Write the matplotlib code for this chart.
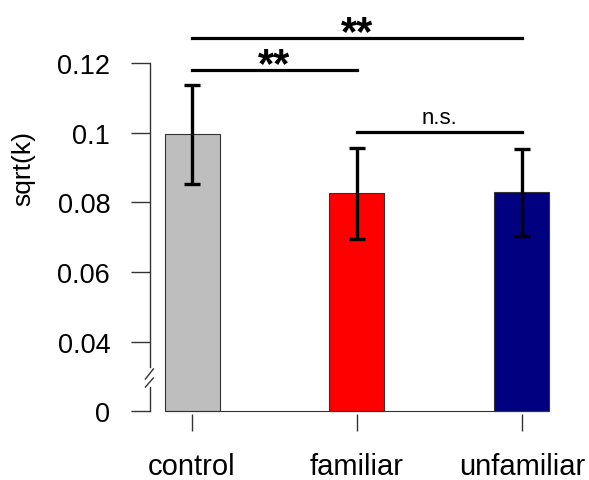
import numpy as np
import matplotlib
matplotlib.use("Agg")
import matplotlib.pyplot as plt

plt.rcParams['font.family'] = ['Liberation Sans', 'DejaVu Sans']

# data
groups = ['control', 'familiar', 'unfamiliar']
means = [0.0996, 0.0826, 0.0829]
errs = [0.0143, 0.0130, 0.0124]
colors = ['#BEBEBE', '#FF0000', '#000080']

# axis is broken: 0 is drawn where 0.02 would be
ytick_vals = [0.0, 0.04, 0.06, 0.08, 0.10, 0.12]
ytick_labels = ['0', '0.04', '0.06', '0.08', '0.1', '0.12']
zero_pos = 0.02

def disp(v):
    return zero_pos if v == 0 else v

# significance brackets: (from, to, label, height)
brackets = [(0, 2, '**', 0.1273), (0, 1, '**', 0.1181), (1, 2, 'n.s.', 0.1003)]

fig = plt.figure(figsize=(5.89, 4.81), dpi=100)
ax = fig.add_axes([150 / 589, 66 / 481, 420 / 589, 400 / 481])

x = np.arange(len(groups))
w = 0.334
ax.bar(x, [m - zero_pos for m in means], bottom=zero_pos, width=w,
       color=colors, edgecolor='#333333', linewidth=0.8, zorder=2)
ax.errorbar(x, means, yerr=errs, fmt='none', ecolor='black',
            elinewidth=2.4, capsize=5.8, capthick=2.4, zorder=3)
ax.hlines(zero_pos, x[0] - w / 2, x[-1] + w / 2, color='#333333', lw=0.8, zorder=2)

ax.set_xlim(-0.255, 2.292)
ax.set_ylim(0.01914, 0.13424)

for s in ['top', 'right', 'bottom', 'left']:
    ax.spines[s].set_visible(False)

# left axis line with break marks
yt = ax.get_yaxis_transform()
ax.plot([0, 0], [0.0327, 0.12], color='#333333', lw=1.0, transform=yt, clip_on=False)
ax.plot([0, 0], [zero_pos, 0.0270], color='#333333', lw=1.0, transform=yt, clip_on=False)
ax.plot([-0.011, 0.008], [0.0292, 0.0321], color='#333333', lw=1.0, transform=yt, clip_on=False)
ax.plot([-0.011, 0.008], [0.0269, 0.0295], color='#333333', lw=1.0, transform=yt, clip_on=False)

ax.set_yticks([disp(v) for v in ytick_vals])
ax.set_yticklabels(ytick_labels, fontsize=19.5)
ax.tick_params(axis='y', length=13.7, width=1.0, color='#333333', pad=15)

ax.set_xticks(x)
ax.set_xticklabels(groups, fontsize=21)
ax.tick_params(axis='x', length=12.2, width=1.0, color='#333333', pad=15)

fig.text(23 / 589, 1 - 169 / 481, 'sqrt(k)', rotation=90, fontsize=19,
         ha='center', va='center')

for a, b, lab, h in brackets:
    ax.plot([x[a], x[b]], [h, h], color='black', lw=2.3, clip_on=False)
    if lab == 'n.s.':
        ax.text((x[a] + x[b]) / 2, h + 0.0010, lab, fontsize=16,
                ha='center', va='bottom')
    else:
        ax.text((x[a] + x[b]) / 2, h - 0.0042, lab,
                fontsize=30, fontweight='bold', ha='center', va='bottom')

fig.savefig('out.png', dpi=100)
